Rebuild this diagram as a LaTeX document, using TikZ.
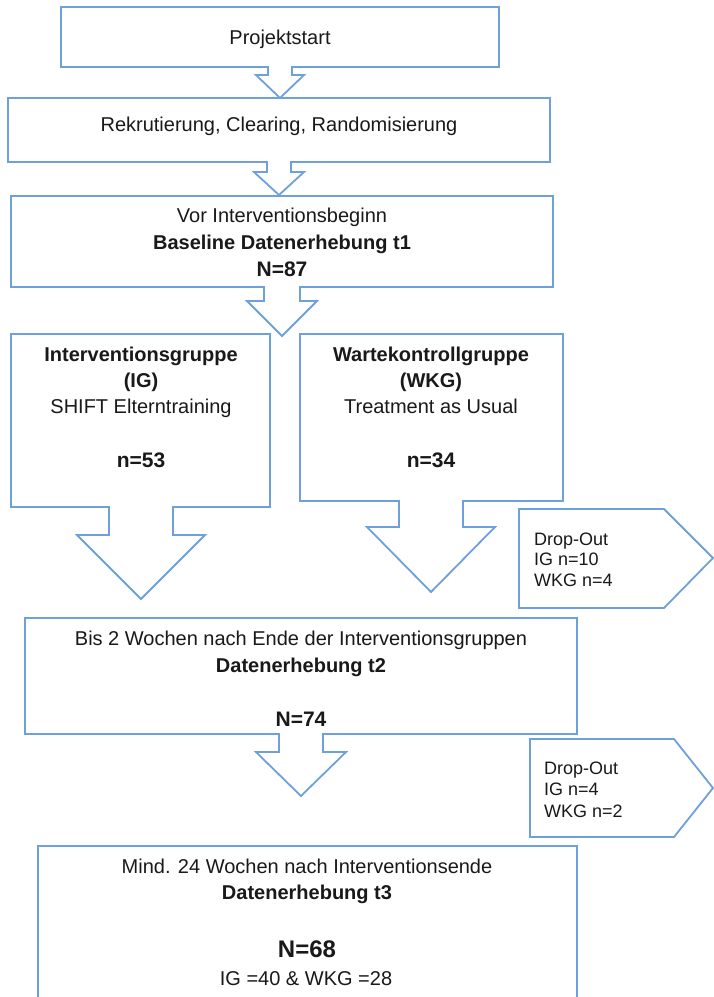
\documentclass[tikz,border=0pt]{standalone}
\usepackage{fontspec}
\setmainfont{Liberation Sans}
\definecolor{frame}{RGB}{110,160,220}
\definecolor{ink}{RGB}{25,25,25}
\tikzset{
  shapeline/.style={draw=frame, line width=1.8pt, line join=miter, fill=white},
  txt/.style={anchor=base, inner sep=0pt, text=ink, font=\fontsize{20}{24}\selectfont},
  txtb/.style={txt, font=\fontsize{20}{24}\selectfont\bfseries},
  txtn/.style={txt, font=\fontsize{21}{25}\selectfont\bfseries},
  txtbig/.style={txt, font=\fontsize{24}{28}\selectfont\bfseries},
  droptxt/.style={anchor=base west, inner sep=0pt, text=ink, font=\fontsize{18}{21}\selectfont},
}
\begin{document}
\begin{tikzpicture}[x=1pt,y=-1pt]
\useasboundingbox (0,0) rectangle (714,997);
\clip (0,0) rectangle (714,997);
% Box 1 with arrow
\draw[shapeline] (61,7) -- (499,7) -- (499,67) -- (292,67) -- (292,75) -- (304,75) -- (280,98) -- (256,75) -- (268,75) -- (268,67) -- (61,67) -- cycle;
% Box 2 with arrow
\draw[shapeline] (8,98) -- (550,98) -- (550,162) -- (291,162) -- (291,172) -- (304,172) -- (279,195) -- (254,172) -- (267,172) -- (267,162) -- (8,162) -- cycle;
% Box 3 with arrow
\draw[shapeline] (11,196) -- (553,196) -- (553,287) -- (300,287) -- (300,301) -- (317,301) -- (282,336) -- (247,301) -- (264,301) -- (264,287) -- (11,287) -- cycle;
% IG box
\draw[shapeline] (11,334) -- (270,334) -- (270,507) -- (173,507) -- (173,535) -- (205,535) -- (141,599) -- (77,535) -- (109,535) -- (109,507) -- (11,507) -- cycle;
% WKG box
\draw[shapeline] (300,334) -- (563,334) -- (563,501) -- (463,501) -- (463,527) -- (495,527) -- (431,592) -- (367,527) -- (399,527) -- (399,501) -- (300,501) -- cycle;
% Drop-out 1
\draw[shapeline] (519,509) -- (664,509) -- (713,558) -- (664,608) -- (519,608) -- cycle;
% t2 box
\draw[shapeline] (25,618) -- (577,618) -- (577,734) -- (323,734) -- (323,752) -- (346,752) -- (301,796) -- (256,752) -- (279,752) -- (279,734) -- (25,734) -- cycle;
% Drop-out 2
\draw[shapeline] (530,739) -- (674,739) -- (713,788) -- (674,837) -- (530,837) -- cycle;
% t3 box (continues below the page)
\draw[shapeline] (38,1005) -- (38,846) -- (577,846) -- (577,1005);

% Texts
\node[txt] (p1) at (280,44) {Projektstart};
\node[txt] (p2) at (279,131) {Rekrutierung, Clearing, Randomisierung};
\node[txt] (p3a) at (282,222) {Vor Interventionsbeginn};
\node[txtb] (p3b) at (282,249) {Baseline Datenerhebung t1};
\node[txtn] (p3c) at (282,276.5) {N=87};
\node[txtb] (iga) at (141,361) {Interventionsgruppe};
\node[txtb] (igb) at (141,387) {(IG)};
\node[txt] (igc) at (141,413) {SHIFT Elterntraining};
\node[txtn] (igd) at (141,467.5) {n=53};
\node[txtb] (wka) at (431,361) {Wartekontrollgruppe};
\node[txtb] (wkb) at (431,387) {(WKG)};
\node[txt] (wkc) at (431,413) {Treatment as Usual};
\node[txtn] (wkd) at (431,467.5) {n=34};
\node[droptxt] (d1a) at (534,545.5) {Drop-Out};
\node[droptxt] (d1b) at (534,565.5) {IG n=10};
\node[droptxt] (d1c) at (534,586.5) {WKG n=4};
\node[txt] (t2a) at (301,645) {Bis 2 Wochen nach Ende der Interventionsgruppen};
\node[txtb] (t2b) at (301,672) {Datenerhebung t2};
\node[txtn] (t2c) at (301,726.5) {N=74};
\node[droptxt] (d2a) at (544,774.5) {Drop-Out};
\node[droptxt] (d2b) at (544,795.5) {IG n=4};
\node[droptxt] (d2c) at (544,817.5) {WKG n=2};
\node[txt] (t3a) at (307,873) {Mind. 24 Wochen nach Interventionsende};
\node[txtb] (t3b) at (307,899) {Datenerhebung t3};
\node[txtbig] (t3c) at (307,957.6) {N=68};
\node[txt] (t3d) at (306,985) {IG =40 \& WKG =28};
\end{tikzpicture}
\end{document}
